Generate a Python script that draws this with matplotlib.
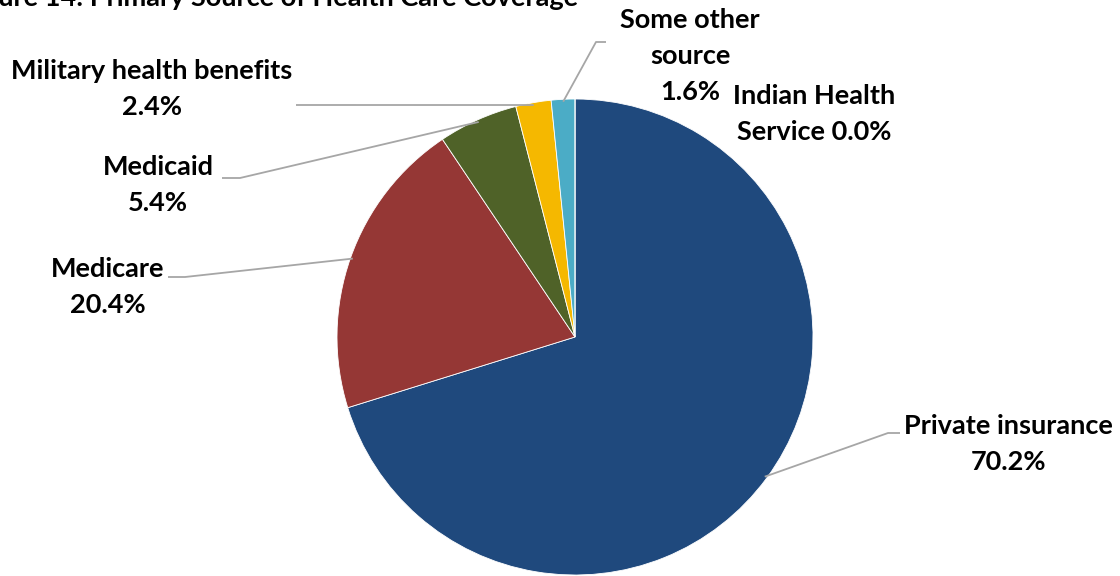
import matplotlib
matplotlib.use("Agg")
import matplotlib.pyplot as plt
import numpy as np

categories = ["Private insurance", "Medicare", "Medicaid", "Military health benefits",
              "Some other source", "Indian Health Service"]
values = [70.2, 20.4, 5.4, 2.4, 1.6, 0.0]
colors = ["#1F497D", "#953735", "#4F6228", "#F5B800", "#4BACC6", "#8064A2"]
label_texts = ["Private insurance\n70.2%", "Medicare\n20.4%", "Medicaid\n5.4%",
               "Military health benefits\n2.4%", "Some other\nsource\n1.6%",
               "Indian Health\nService 0.0%"]
title = "Figure 14: Primary Source of Health Care Coverage"

W, H = 1120, 576
plt.rcParams['font.family'] = ['Lato', 'DejaVu Sans']
fig = plt.figure(figsize=(W / 100, H / 100), dpi=100)
ax = fig.add_axes([0, 0, 1, 1])

def py(y):
    return H - y

cx, cy, R = 575, 337, 238
wedges, _ = ax.pie(values, colors=colors, startangle=90, counterclock=False,
                   center=(cx, py(cy)), radius=R, frame=True,
                   wedgeprops=dict(edgecolor='white', linewidth=0.6))
ax.set_xlim(0, W)
ax.set_ylim(0, H)
ax.set_aspect('equal')
ax.axis('off')

# label layout: text center and leader elbow points (pixels from top-left)
layout = {
    0: dict(xy=(1008, 444), path=[(888, 433), (900, 433)]),
    1: dict(xy=(108, 287), path=[(185, 277), (168, 277)]),
    2: dict(xy=(158, 185), path=[(240, 178), (222, 178)]),
    3: dict(xy=(152, 89), path=[(296, 105)]),
    4: dict(xy=(690, 56), path=[(596, 42), (606, 42)]),
    5: dict(xy=(814, 114), path=None),
}

line_col = "#A6A6A6"
for i, w in enumerate(wedges):
    L = layout[i]
    tx, ty = L['xy']
    ax.text(tx, py(ty), label_texts[i], ha='center', va='center', fontsize=19.5,
            fontweight='bold', color='black', linespacing=1.62)
    if L['path'] is None:
        continue
    ang = np.deg2rad((w.theta1 + w.theta2) / 2)
    ax_, ay_ = cx + R * 0.99 * np.cos(ang), py(cy) + R * 0.99 * np.sin(ang)
    xs = [ax_] + [p[0] for p in L['path']]
    ys = [ay_] + [py(p[1]) for p in L['path']]
    ax.plot(xs, ys, color=line_col, lw=1.3, solid_capstyle='butt')

fig.text(578 / W, 1 - 5.5 / H, title, ha='right', va='baseline', fontsize=19.5,
         fontweight='bold', color='black')

fig.savefig("out.png", dpi=100)
